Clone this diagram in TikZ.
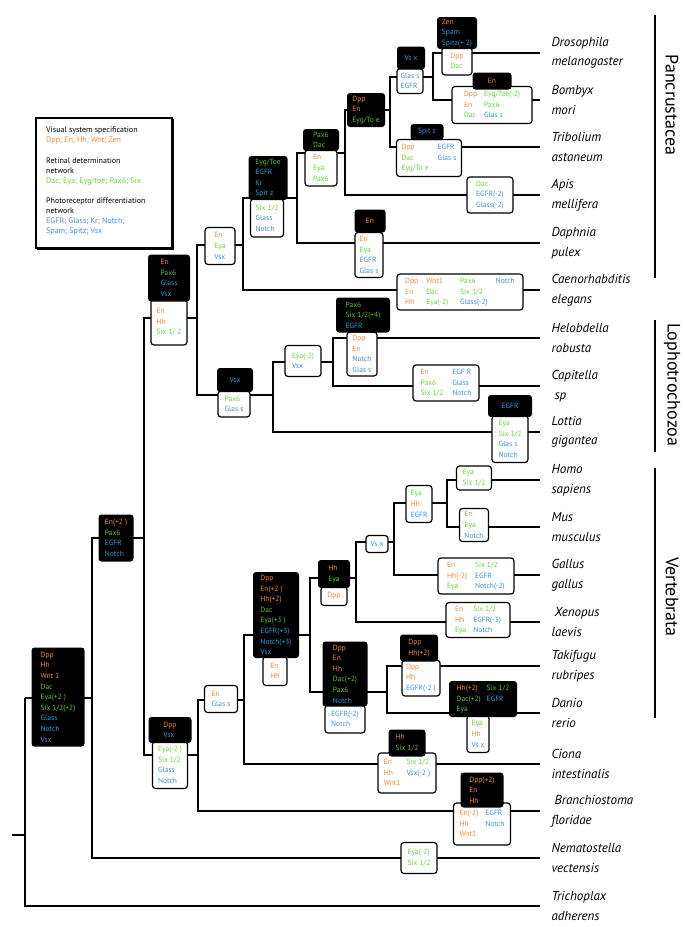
\documentclass[tikz,border=0pt]{standalone}
\usepackage{fontspec}
\setmainfont{PT Sans}
\usepackage{tikz}

\definecolor{vorange}{RGB}{240,136,58}
\definecolor{vgreen}{RGB}{100,216,50}
\definecolor{vblue}{RGB}{62,142,226}
\definecolor{vgreenD}{RGB}{92,196,38}
\definecolor{vblueD}{RGB}{42,158,212}
\newcommand{\cOr}[1]{\textcolor{vorange}{#1}}
\newcommand{\cGr}[1]{\textcolor{vgreen}{#1}}
\newcommand{\cBl}[1]{\textcolor{vblue}{#1}}
\newcommand{\boxfont}{\fontsize{7.5}{10.6}\selectfont}

\begin{document}
\begin{tikzpicture}[x=1pt,y=-1pt,
  tree/.style={line width=2.8pt},
  dk/.style={fill=black, rounded corners=3pt, inner sep=1pt, align=left, font=\boxfont,
    execute at begin node={\colorlet{vgreen}{vgreenD}\colorlet{vblue}{vblueD}}},
  lt/.style={fill=white, draw=black, line width=1.2pt, rounded corners=3pt, inner sep=1pt, align=left, font=\boxfont},
  sp/.style={anchor=west, align=left, font=\fontsize{13}{19.5}\selectfont\itshape},
  clade/.style={line width=2.6pt},
  cladelab/.style={rotate=-90, font=\fontsize{18}{18}\selectfont}]
\useasboundingbox (0,0) rectangle (685,927);

% tree nodes
\coordinate (stub) at (12,835);
\coordinate (Root) at (25,698);
\coordinate (Eum) at (92,698);
\coordinate (Bil) at (144,538);
\coordinate (Pro) at (197,318);
\coordinate (Ecd) at (243,245);
\coordinate (Pan) at (297,198);
\coordinate (Ins) at (345,153);
\coordinate (Hol) at (390,110);
\coordinate (Dm) at (433,77);
\coordinate (Lop) at (273,395);
\coordinate (Ann) at (333,362);
\coordinate (Deu) at (198,755);
\coordinate (Olf) at (244,700);
\coordinate (Ver) at (310,635);
\coordinate (Tet) at (356,578);
\coordinate (Amn) at (394,542);
\coordinate (Mam) at (447,503);
\coordinate (Fis) at (387,692);

% leaf ends
\coordinate (dro) at (540,53);
\coordinate (bom) at (540,100);
\coordinate (tri) at (540,147);
\coordinate (api) at (540,195);
\coordinate (dap) at (540,243);
\coordinate (cel) at (540,290);
\coordinate (hel) at (540,338);
\coordinate (cap) at (540,386);
\coordinate (lot) at (540,432);
\coordinate (hom) at (540,480);
\coordinate (mus) at (540,527);
\coordinate (gal) at (540,575);
\coordinate (xen) at (540,622);
\coordinate (tak) at (540,666);
\coordinate (dan) at (540,713);
\coordinate (cio) at (540,764);
\coordinate (bra) at (540,811);
\coordinate (nem) at (540,858);
\coordinate (trp) at (540,906);

% branches
\draw[tree] (stub) -- (stub -| Root);
\draw[tree] (Root) -- (Eum);
\draw[tree] (Root) |- (trp);
\draw[tree] (Eum) |- (Bil);
\draw[tree] (Eum) |- (nem);
\draw[tree] (Bil) |- (Pro);
\draw[tree] (Bil) |- (Deu);
\draw[tree] (Pro) |- (Ecd);
\draw[tree] (Pro) |- (Lop);
\draw[tree] (Ecd) |- (Pan);
\draw[tree] (Ecd) |- (cel);
\draw[tree] (Pan) |- (Ins);
\draw[tree] (Pan) |- (dap);
\draw[tree] (Ins) |- (Hol);
\draw[tree] (Ins) |- (api);
\draw[tree] (Hol) |- (Dm);
\draw[tree] (Hol) |- (tri);
\draw[tree] (Dm) |- (dro);
\draw[tree] (Dm) |- (bom);
\draw[tree] (Lop) |- (Ann);
\draw[tree] (Lop) |- (lot);
\draw[tree] (Ann) |- (hel);
\draw[tree] (Ann) |- (cap);
\draw[tree] (Deu) |- (Olf);
\draw[tree] (Deu) |- (bra);
\draw[tree] (Olf) |- (Ver);
\draw[tree] (Olf) |- (cio);
\draw[tree] (Ver) |- (Tet);
\draw[tree] (Ver) |- (Fis);
\draw[tree] (Tet) |- (Amn);
\draw[tree] (Tet) |- (xen);
\draw[tree] (Amn) |- (Mam);
\draw[tree] (Amn) |- (gal);
\draw[tree] (Mam) |- (hom);
\draw[tree] (Mam) |- (mus);
\draw[tree] (Fis) |- (tak);
\draw[tree] (Fis) |- (dan);

% gene boxes, white part first
\node[lt, minimum width=30pt, minimum height=28pt] (droW) at (457,61) {\cOr{Dpp}\\ \cGr{Dac}};
\node[dk, minimum width=40pt, minimum height=32pt] (droB) at (457,33) {\cOr{Zen}\\ \cBl{Spam}\\ \cBl{Spitz(+ 2)}};
\node[lt, minimum width=80pt, minimum height=37pt] (bomW) at (492,105) {\begin{tabular}{@{}l@{\hspace{7pt}}l@{}}\cOr{Dpp} & \cGr{Eyg/Toe(-2)}\\ \cOr{En} & \cGr{Pax6}\\ \cGr{Dac} & \cBl{Glas s}\end{tabular}};
\node[dk, minimum width=39pt, minimum height=17pt] (bomB) at (492,81) {\cOr{En}};
\node[lt, minimum width=26pt, minimum height=25pt] (dmW) at (410,81) {\cBl{Glas s}\\ \cBl{EGFR}};
\node[dk, minimum width=28pt, minimum height=23pt] (dmB) at (411,58) {\cBl{Vs x}};
\node[dk, minimum width=38pt, minimum height=34pt] (holB) at (366,110) {\cOr{Dpp}\\ \cOr{En}\\ \cGr{Eyg/To e}};
\node[lt, minimum width=65pt, minimum height=37pt] (triW) at (429,158) {\begin{tabular}{@{}l@{\hspace{9pt}}l@{}}\cOr{Dpp} & \cBl{EGFR}\\ \cGr{Dac} & \cBl{Glas s}\\ \cGr{Eyg/To e} & \end{tabular}};
\node[dk, minimum width=33pt, minimum height=16pt] (triB) at (427,132) {\cBl{Spit z}};
\node[lt, minimum width=32pt, minimum height=36pt] (insW) at (321,168) {\cOr{En}\\ \cGr{Eya}\\ \cGr{Pax6}};
\node[dk, minimum width=36pt, minimum height=22pt] (insB) at (321,140) {\cGr{Pax6}\\ \cGr{Dac}};
\node[lt, minimum width=46pt, minimum height=36pt] (apiW) at (490,195) {\cGr{Dac}\\ \cBl{EGFR(-2)}\\ \cBl{Glass(-2)}};
\node[lt, minimum width=33pt, minimum height=38pt] (panW) at (267,218) {\cGr{Six 1/2}\\ \cBl{Glass}\\ \cBl{Notch}};
\node[dk, minimum width=39pt, minimum height=44pt] (panB) at (268,178) {\cGr{Eyg/Toe}\\ \cBl{EGFR}\\ \cBl{Kr}\\ \cBl{Spit z}};
\node[lt, minimum width=28pt, minimum height=45pt] (dapW) at (369,255) {\cOr{En}\\ \cGr{Eya}\\ \cBl{EGFR}\\ \cBl{Glas s}};
\node[dk, minimum width=31pt, minimum height=23pt] (dapB) at (370,221) {\cOr{En}};
\node[lt, minimum width=126pt, minimum height=36pt] (celW) at (460,292) {\begin{tabular}{@{}l@{\hspace{8pt}}l@{\hspace{12pt}}l@{\hspace{8pt}}l@{}}\cOr{Dpp} & \cOr{Wnt1} & \cGr{Pax6} & \cBl{Notch}\\ \cOr{En} & \cGr{Dac} & \cGr{Six 1/2} & \\ \cOr{Hh} & \cGr{Eya(-2)} & \cBl{Glass(-2)} & \end{tabular}};
\node[lt, minimum width=30pt, minimum height=37pt] (ecdW) at (220,246) {\cOr{En}\\ \cGr{Eya}\\ \cBl{Vsx}};
\node[lt, minimum width=36pt, minimum height=46pt] (proW) at (169,322) {\cOr{En}\\ \cOr{Hh}\\ \cGr{Six 1/ 2}};
\node[dk, minimum width=42pt, minimum height=47pt] (proB) at (169,278) {\cOr{En}\\ \cGr{Pax6}\\ \cBl{Glass}\\ \cBl{Vsx}};
\node[lt, minimum width=30pt, minimum height=44pt] (helW) at (362,354) {\cOr{Dpp}\\ \cOr{En}\\ \cBl{Notch}\\ \cBl{Glas s}};
\node[dk, minimum width=54pt, minimum height=35pt] (helB) at (363,315) {\cGr{Pax6}\\ \cGr{Six 1/2(+4)}\\ \cBl{EGFR}};
\node[lt, minimum width=36pt, minimum height=31pt] (annW) at (303,361) {\cGr{Eya(-2)}\\ \cBl{Vsx}};
\node[lt, minimum width=66pt, minimum height=36pt] (capW) at (446,383) {\begin{tabular}{@{}l@{\hspace{9pt}}l@{}}\cOr{En} & \cBl{EGF R}\\ \cGr{Pax6} & \cBl{Glass}\\ \cGr{Six 1/2} & \cBl{Notch}\end{tabular}};
\node[lt, minimum width=32pt, minimum height=26pt] (lopW) at (234,404) {\cGr{Pax6}\\ \cBl{Glas s}};
\node[dk, minimum width=36pt, minimum height=24pt] (lopB) at (235,380) {\cBl{Vsx}};
\node[lt, minimum width=36pt, minimum height=47pt] (lotW) at (510,439) {\cGr{Eya}\\ \cGr{Six 1/2}\\ \cBl{Glas s}\\ \cBl{Notch}};
\node[dk, minimum width=44pt, minimum height=22pt] (lotB) at (510,406) {\cBl{EGFR}};
\node[lt, minimum width=35pt, minimum height=24pt] (homW) at (474,478) {\cGr{Eya}\\ \cGr{Six 1/2}};
\node[lt, minimum width=29pt, minimum height=33pt] (musW) at (474,525) {\cOr{En}\\ \cGr{Eya}\\ \cBl{Notch}};
\node[lt, minimum width=26pt, minimum height=37pt] (mamW) at (419,504) {\cGr{Eya}\\ \cOr{Hh}\\ \cBl{EGFR}};
\node[lt, minimum width=76pt, minimum height=36pt] (galW) at (476,576) {\begin{tabular}{@{}l@{\hspace{8pt}}l@{}}\cOr{En} & \cGr{Six 1/2}\\ \cOr{Hh(-2)} & \cBl{EGFR}\\ \cGr{Eya} & \cBl{Notch(-2)}\end{tabular}};
\node[lt, minimum width=22pt, minimum height=17pt] (amnW) at (377,544) {\cBl{Vs x}};
\node[lt, minimum width=64pt, minimum height=35pt] (xenW) at (478,620) {\begin{tabular}{@{}l@{\hspace{7pt}}l@{}}\cOr{En} & \cGr{Six 1/2}\\ \cOr{Hh} & \cBl{EGFR(-3)}\\ \cGr{Eya} & \cBl{Notch}\end{tabular}};
\node[lt, minimum width=26pt, minimum height=19pt] (tetW) at (334,596) {\cOr{Dpp}};
\node[dk, minimum width=32pt, minimum height=28pt] (tetB) at (334,574) {\cOr{Hh}\\ \cGr{Eya}};
\node[lt, minimum width=24pt, minimum height=29pt] (verW) at (275,671) {\cOr{En}\\ \cOr{Hh}};
\node[dk, minimum width=46pt, minimum height=86pt] (verB) at (276,615) {\cOr{Dpp}\\ \cOr{En(+2 )}\\ \cOr{Hh(+2)}\\ \cGr{Dac}\\ \cGr{Eya(+3 )}\\ \cBl{EGFR(+3)}\\ \cBl{Notch(+3)}\\ \cBl{Vsx}};
\node[lt, minimum width=40pt, minimum height=28pt] (fisW) at (345,719) {\cBl{EGFR(-2)}\\ \cBl{Notch}};
\node[dk, minimum width=45pt, minimum height=65pt] (fisB) at (345,674) {\cOr{Dpp}\\ \cOr{En}\\ \cOr{Hh}\\ \cGr{Dac(+2)}\\ \cGr{Pax6}\\ \cBl{Notch}};
\node[lt, minimum width=38pt, minimum height=36pt] (takW) at (421,678) {\cOr{Dpp}\\ \cOr{Hh}\\ \cBl{EGFR(-2 )}};
\node[dk, minimum width=38pt, minimum height=27pt] (takB) at (419,648) {\cOr{Dpp}\\ \cOr{Hh(+2)}};
\node[lt, minimum width=22pt, minimum height=37pt] (danW) at (478,734) {\cGr{Eya}\\ \cOr{Hh}\\ \cBl{Vs x}};
\node[dk, minimum width=68pt, minimum height=36pt] (danB) at (483,699) {\begin{tabular}{@{}l@{\hspace{6pt}}l@{}}\cOr{Hh(+2)} & \cGr{Six 1/2}\\ \cGr{Dac(+2)} & \cBl{EGFR}\\ \cGr{Eya} & \end{tabular}};
\node[lt, minimum width=58pt, minimum height=40pt] (cioW) at (407,773) {\begin{tabular}{@{}l@{\hspace{6pt}}l@{}}\cOr{En} & \cGr{Six 1/2}\\ \cOr{Hh} & \cBl{Vsx(-2 )}\\ \cOr{Wnt1} & \end{tabular}};
\node[dk, minimum width=37pt, minimum height=27pt] (cioB) at (407,743) {\cOr{Hh}\\ \cGr{Six 1/2}};
\node[lt, minimum width=33pt, minimum height=27pt] (olfW) at (221,699) {\cOr{En}\\ \cBl{Glas s}};
\node[lt, minimum width=35pt, minimum height=47pt] (deuW) at (170,765) {\cGr{Eya(-2 )}\\ \cGr{Six 1/2}\\ \cBl{Glass}\\ \cBl{Notch}};
\node[dk, minimum width=43pt, minimum height=26pt] (deuB) at (170,730) {\cOr{Dpp}\\ \cBl{Vsx}};
\node[lt, minimum width=57pt, minimum height=42pt] (braW) at (482,824) {\begin{tabular}{@{}l@{\hspace{7pt}}l@{}}\cOr{En(-2)} & \cBl{EGFR}\\ \cOr{Hh} & \cBl{Notch}\\ \cOr{Wnt1} & \end{tabular}};
\node[dk, minimum width=43pt, minimum height=35pt] (braB) at (482,790) {\cOr{Dpp(+2)}\\ \cOr{En}\\ \cOr{Hh}};
\node[dk, minimum width=35pt, minimum height=47pt] (bilB) at (116,538) {\cOr{En(+2 )}\\ \cGr{Pax6}\\ \cBl{EGFR}\\ \cBl{Notch}};
\node[dk, minimum width=53pt, minimum height=99pt] (rootB) at (58,697) {\cOr{Dpp}\\ \cOr{Hh}\\ \cOr{Wnt 1}\\ \cGr{Dac}\\ \cGr{Eya(+2 )}\\ \cGr{Six 1/2(+2)}\\ \cBl{Glass}\\ \cBl{Notch}\\ \cBl{Vsx}};
\node[lt, minimum width=36pt, minimum height=31pt] (nemW) at (419,858) {\cGr{Eya(-2)}\\ \cGr{Six 1/2}};

% species
\node[sp] (lDro) at (548,53) {Drosophila\\ melanogaster};
\node[sp] (lBom) at (548,100) {Bombyx\\ mori};
\node[sp] (lTri) at (548,147) {Tribolium\\ astaneum};
\node[sp] (lApi) at (548,195) {Apis\\ mellifera};
\node[sp] (lDap) at (548,243) {Daphnia\\ pulex};
\node[sp] (lCel) at (548,290) {Caenorhabditis\\ elegans};
\node[sp] (lHel) at (548,338) {Helobdella\\ robusta};
\node[sp] (lCap) at (548,386) {Capitella\\ \hspace*{3pt}sp};
\node[sp] (lLot) at (548,432) {Lottia\\ gigantea};
\node[sp] (lHom) at (548,480) {Homo\\ sapiens};
\node[sp] (lMus) at (548,527) {Mus\\ musculus};
\node[sp] (lGal) at (548,575) {Gallus\\ gallus};
\node[sp] (lXen) at (548,622) {\hspace*{3pt}Xenopus\\ laevis};
\node[sp] (lTak) at (548,666) {Takifugu\\ rubripes};
\node[sp] (lDan) at (548,713) {Danio\\ rerio};
\node[sp] (lCio) at (548,764) {Ciona\\ intestinalis};
\node[sp] (lBra) at (548,811) {\hspace*{3pt}Branchiostoma\\ floridae};
\node[sp] (lNem) at (548,858) {Nematostella\\ vectensis};
\node[sp] (lTrp) at (548,906) {Trichoplax\\ adherens};

% clades
\coordinate (panT) at (655,15);
\coordinate (panE) at (655,278);
\coordinate (lopT) at (655,320);
\coordinate (lopE) at (655,452);
\coordinate (verT) at (655,468);
\coordinate (verE) at (655,718);
\draw[clade] (panT) -- (panE);
\draw[clade] (lopT) -- (lopE);
\draw[clade] (verT) -- (verE);
\node[cladelab] (cPan) at (672,105) {Pancrustacea};
\node[cladelab] (cLop) at (672,385) {Lophotrochozoa};
\node[cladelab] (cVer) at (672,597) {Vertebrata};

% legend
\fill (37,119) rectangle (174,250);
\node[draw, fill=white, line width=1.5pt, minimum width=136pt, minimum height=130pt, anchor=north west] (legend) at (35,117) {};
\node[anchor=north west, align=left, inner sep=0pt, font=\fontsize{8}{9.8}\selectfont] (legtext) at (46,127) {Visual system specification\\ \cOr{Dpp; En; Hh; Wnt; Zen}\\[11pt] Retinal determination\\ network\\ \cGr{Dac; Eya; Eyg/toe; Pax6; Six}\\[11pt] Photoreceptor differentiation\\ network\\ \cBl{EGFR; Glass; Kr; Notch;}\\ \cBl{Spam; Spitz; Vsx}};
\end{tikzpicture}
\end{document}
